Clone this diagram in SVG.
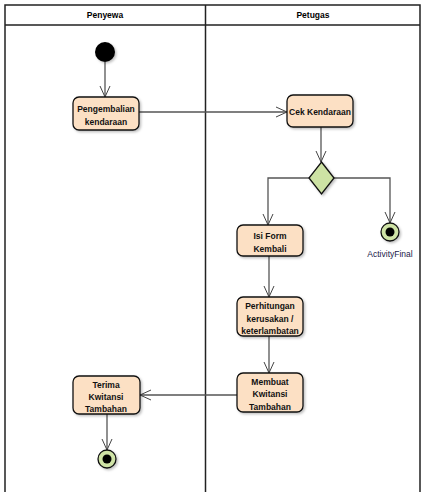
<svg xmlns="http://www.w3.org/2000/svg" width="430" height="497" viewBox="0 0 430 497">
<defs>
<filter id="sh" x="-20%" y="-20%" width="140%" height="150%">
<feDropShadow dx="1.5" dy="1.5" stdDeviation="1" flood-color="#000" flood-opacity="0.25"/>
</filter>
<marker id="arr" viewBox="0 0 12 12" refX="11" refY="6" markerWidth="12" markerHeight="12" markerUnits="userSpaceOnUse" orient="auto">
<path d="M0,1 L11,6 L0,11" fill="none" stroke="#444" stroke-width="1"/>
</marker>
</defs>
<style>
.lane{fill:none;stroke:#222;stroke-width:1.5}
.hdr{font-family:"Liberation Sans",Arial,sans-serif;font-size:8.5px;font-weight:bold;fill:#000;text-anchor:middle}
.act{fill:#FCE0C4;stroke:#111;stroke-width:1.3;filter:url(#sh)}
.lbl{font-family:"Liberation Sans",Arial,sans-serif;font-size:8.5px;font-weight:bold;fill:#111;text-anchor:middle}
.con{fill:none;stroke:#555;stroke-width:1.3}
.fin{fill:#CFE3A6;stroke:#111;stroke-width:1.3;filter:url(#sh)}
.small{font-family:"Liberation Sans",Arial,sans-serif;font-size:8.5px;fill:#1a1a4a;text-anchor:middle}
</style>
<rect width="430" height="497" fill="#fff"/>
<g id="swimlanes">
<path class="lane" d="M5,492 V5 H420 V492 M205.5,5 V492 M5,25 H420"/>
<text class="hdr" x="105" y="18">Penyewa</text>
<text class="hdr" x="313" y="18">Petugas</text>
</g>
<g id="connectors">
<path class="con" d="M105,62 V97" marker-end="url(#arr)"/>
<path class="con" d="M139,112 H287" marker-end="url(#arr)"/>
<path class="con" d="M321,127 V162" marker-end="url(#arr)"/>
<path class="con" d="M309,178 H268 V225" marker-end="url(#arr)"/>
<path class="con" d="M334,178 H390 V223" marker-end="url(#arr)"/>
<path class="con" d="M269,256 V297" marker-end="url(#arr)"/>
<path class="con" d="M269,336 V373" marker-end="url(#arr)"/>
<path class="con" d="M237,395 H140" marker-end="url(#arr)"/>
<path class="con" d="M107,414 V450" marker-end="url(#arr)"/>
</g>
<g id="start">
<circle cx="105" cy="52" r="10" fill="#000" filter="url(#sh)"/>
</g>
<g id="pengembalian">
<rect class="act" x="73" y="97" width="66" height="33" rx="6"/>
<text class="lbl" x="106" y="111.5">Pengembalian</text>
<text class="lbl" x="106" y="124.5">kendaraan</text>
</g>
<g id="cek">
<rect class="act" x="287" y="95" width="66" height="32" rx="6"/>
<text class="lbl" x="320" y="114.5">Cek Kendaraan</text>
</g>
<g id="decision">
<path d="M321.5,162 L334,178 L321.5,194 L309,178 Z" fill="#CDE2A4" stroke="#111" stroke-width="1.3" filter="url(#sh)"/>
</g>
<g id="final1">
<circle class="fin" cx="390" cy="232" r="9"/>
<circle cx="390" cy="232" r="4.5" fill="#000"/>
<text class="small" x="390" y="257">ActivityFinal</text>
</g>
<g id="isiform">
<rect class="act" x="237" y="225" width="66" height="31" rx="6"/>
<text class="lbl" x="270" y="238.5">Isi Form</text>
<text class="lbl" x="270" y="251.5">Kembali</text>
</g>
<g id="perhitungan">
<rect class="act" x="237" y="297" width="66" height="39" rx="6"/>
<text class="lbl" x="270" y="309">Perhitungan</text>
<text class="lbl" x="270" y="321.5">kerusakan /</text>
<text class="lbl" x="270" y="333.5">keterlambatan</text>
</g>
<g id="membuat">
<rect class="act" x="237" y="373" width="66" height="39" rx="6"/>
<text class="lbl" x="270" y="384.5">Membuat</text>
<text class="lbl" x="270" y="397">Kwitansi</text>
<text class="lbl" x="270" y="409.5">Tambahan</text>
</g>
<g id="terima">
<rect class="act" x="73" y="376" width="67" height="38" rx="6"/>
<text class="lbl" x="106" y="387.5">Terima</text>
<text class="lbl" x="106" y="400">Kwitansi</text>
<text class="lbl" x="106" y="412">Tambahan</text>
</g>
<g id="final2">
<circle class="fin" cx="107" cy="459" r="9"/>
<circle cx="107" cy="459" r="4.5" fill="#000"/>
</g>
</svg>
